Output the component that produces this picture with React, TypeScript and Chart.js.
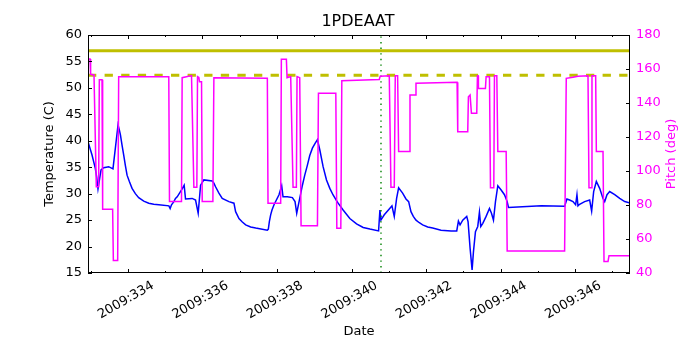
import React, { useEffect, useRef } from 'react';
import { Chart, registerables } from 'chart.js';

Chart.register(...registerables);

const chartTitle = '1PDEAAT';
const xAxisTitle = 'Date';
const tempAxisTitle = 'Temperature (C)';
const pitchAxisTitle = 'Pitch (deg)';

const xMin = 332.93;
const xMax = 347.47;

const xTickDays = [334, 336, 338, 340, 342, 344, 346];
const xTickLabels = ['2009:334', '2009:336', '2009:338', '2009:340', '2009:342', '2009:344', '2009:346'];
const xMinorDays = [333, 335, 337, 339, 341, 343, 345, 347];
const tempTicks = [15, 20, 25, 30, 35, 40, 45, 50, 55, 60];
const pitchTicks = [40, 60, 80, 100, 120, 140, 160, 180];

const planningLimit = 57;
const cautionLimit = 52.4;
const markerDay = 340.79;

const tempDays = [
  332.93, 332.983, 333.038, 333.08, 333.126, 333.162, 333.198, 333.243, 333.28, 333.35,
  333.485, 333.6, 333.736, 333.772, 333.8, 333.843, 333.888, 333.933, 333.978, 334.04,
  334.112, 334.2, 334.29, 334.426, 334.56, 334.694, 334.83, 335.1, 335.134, 335.17,
  335.234, 335.277, 335.323, 335.41, 335.456, 335.51, 335.546, 335.725, 335.815, 335.886,
  335.95, 336.039, 336.263, 336.307, 336.352, 336.442, 336.531, 336.71, 336.845, 336.89,
  336.98, 337.07, 337.16, 337.293, 337.43, 337.74, 337.768, 337.795, 337.83, 337.866,
  337.92, 338.054, 338.126, 338.162, 338.278, 338.413, 338.484, 338.529, 338.592, 338.682,
  338.745, 338.816, 338.879, 338.95, 339.022, 339.085, 339.148, 339.237, 339.328, 339.417,
  339.505, 339.597, 339.64, 339.774, 339.954, 340.134, 340.312, 340.492, 340.725, 340.761,
  340.788, 340.878, 341.012, 341.084, 341.146, 341.209, 341.263, 341.37, 341.46, 341.532,
  341.594, 341.657, 341.729, 341.818, 341.908, 342.043, 342.177, 342.4, 342.67, 342.822,
  342.867, 342.911, 342.983, 343.09, 343.126, 343.18, 343.234, 343.27, 343.324, 343.386,
  343.431, 343.467, 343.521, 343.61, 343.7, 343.754, 343.807, 343.861, 343.924, 344.013,
  344.103, 344.175, 344.21, 345.09, 345.716, 345.778, 345.85, 345.94, 346.011, 346.047,
  346.074, 346.119, 346.253, 346.388, 346.441, 346.495, 346.567, 346.656, 346.746, 346.791,
  346.853, 346.925, 347.06, 347.194, 347.328, 347.49,
];
const tempValues = [
  39.8, 38.6, 37.3, 36.1, 34.8, 33.2, 30.9, 32.9, 34.5, 34.9,
  35.1, 34.7, 43.0, 42.0, 41.1, 39.2, 37.3, 35.3, 33.5, 32.3,
  31.0, 30.0, 29.25, 28.6, 28.2, 28.0, 27.9, 27.7, 27.2, 27.9,
  28.5, 29.1, 29.4, 30.4, 30.9, 31.6, 29.0, 29.1, 28.8, 26.3,
  31.6, 32.6, 32.4, 32.0, 31.3, 30.1, 29.1, 28.5, 28.2, 26.6,
  25.3, 24.65, 24.1, 23.7, 23.5, 23.1, 23.3, 24.7, 26.0, 26.9,
  27.9, 29.8, 31.5, 29.4, 29.4, 29.25, 28.5, 26.3, 28.5, 31.6,
  33.5, 35.4, 37.2, 38.6, 39.5, 40.2, 38.3, 35.1, 32.6, 31.0,
  29.75, 28.7, 28.2, 26.9, 25.3, 24.3, 23.6, 23.3, 22.95, 26.9,
  25.0, 26.0, 27.1, 27.7, 25.7, 29.1, 31.1, 30.1, 29.0, 28.5,
  26.6, 25.7, 25.0, 24.5, 24.1, 23.7, 23.5, 23.1, 22.95, 22.95,
  24.8, 24.1, 25.0, 25.7, 24.7, 19.7, 15.6, 19.0, 22.8, 23.8,
  26.5, 23.8, 24.4, 25.7, 27.2, 26.3, 25.0, 28.5, 31.5, 30.7,
  29.8, 28.5, 27.4, 27.7, 27.6, 29.0, 28.8, 28.5, 27.9, 29.8,
  27.7, 28.0, 28.5, 28.8, 26.7, 30.4, 32.3, 31.0, 29.1, 28.5,
  29.8, 30.4, 29.8, 29.1, 28.5, 28.2,
];

const pitchDays = [
  332.93, 332.984, 333.0, 333.091, 333.153, 333.215, 333.234, 333.306, 333.323, 333.591,
  333.61, 333.726, 333.753, 335.097, 335.116, 335.438, 335.456, 335.707, 335.77, 335.85,
  335.868, 335.904, 335.922, 335.976, 335.994, 336.28, 336.307, 337.741, 337.759, 338.099,
  338.117, 338.252, 338.27, 338.368, 338.431, 338.52, 338.538, 338.61, 338.646, 339.085,
  339.112, 339.578, 339.605, 339.712, 339.739, 340.743, 340.77, 341.012, 341.057, 341.146,
  341.173, 341.236, 341.263, 341.55, 341.568, 341.711, 341.729, 342.831, 342.849, 343.117,
  343.135, 343.18, 343.216, 343.359, 343.377, 343.395, 343.404, 343.592, 343.61, 343.7,
  343.727, 343.816, 343.834, 343.897, 343.924, 344.148, 344.175, 345.716, 345.76, 345.94,
  346.074, 346.343, 346.37, 346.433, 346.45, 346.549, 346.567, 346.746, 346.773, 346.88,
  346.907, 347.49,
];
const pitchValues = [
  165.9, 165.9, 156.9, 156.5, 90.8, 90.8, 153.7, 153.7, 77.5, 77.5,
  47.3, 47.3, 155.5, 155.5, 82.0, 82.0, 154.9, 156.1, 90.4, 90.4,
  155.5, 155.0, 152.5, 152.5, 82.0, 82.0, 154.9, 154.5, 81.0, 81.0,
  165.7, 165.7, 154.9, 155.5, 90.4, 90.4, 155.5, 154.9, 67.8, 67.8,
  145.7, 145.7, 66.3, 66.3, 153.1, 153.8, 155.8, 156.0, 90.4, 90.4,
  156.1, 156.1, 111.4, 111.4, 144.7, 144.7, 151.6, 152.2, 123.1, 123.1,
  143.7, 144.7, 133.9, 133.9, 156.1, 156.1, 148.6, 148.6, 155.5, 155.5,
  90.2, 90.2, 156.1, 156.1, 111.4, 111.4, 52.9, 52.9, 154.5, 155.1,
  155.7, 156.0, 90.2, 90.2, 156.1, 156.1, 111.4, 111.4, 46.7, 46.7,
  50.2, 50.2,
];

const FONT = 'DejaVu Sans';

const framePlugin = {
  id: 'mplFrame',
  afterDatasetsDraw(chart: any) {
    const { ctx, chartArea, scales } = chart;
    const { left, right, top, bottom } = chartArea;
    ctx.save();
    ctx.strokeStyle = '#000';
    ctx.lineWidth = 1;
    const seg = (x1: number, y1: number, x2: number, y2: number) => {
      ctx.beginPath();
      ctx.moveTo(x1, y1);
      ctx.lineTo(x2, y2);
      ctx.stroke();
    };
    const xs = scales.x;
    xTickDays.forEach((d) => {
      const px = Math.round(xs.getPixelForValue(d)) + 0.5;
      seg(px, bottom, px, bottom - 4);
      seg(px, top, px, top + 4);
    });
    xMinorDays.forEach((d) => {
      if (d < xMin || d > xMax) return;
      const px = Math.round(xs.getPixelForValue(d)) + 0.5;
      seg(px, bottom, px, bottom - 2);
      seg(px, top, px, top + 2);
    });
    tempTicks.forEach((v) => {
      const py = Math.round(scales.y.getPixelForValue(v)) + 0.5;
      seg(left, py, left + 4, py);
    });
    pitchTicks.forEach((v) => {
      const py = Math.round(scales.y1.getPixelForValue(v)) + 0.5;
      seg(right, py, right - 4, py);
    });
    ctx.strokeRect(Math.round(left) + 0.5, Math.round(top) + 0.5, Math.round(right - left) - 1, Math.round(bottom - top) - 1);

    // right axis title, reading bottom-to-top like matplotlib
    ctx.fillStyle = '#ff00ff';
    ctx.font = `13px "${FONT}"`;
    ctx.textAlign = 'center';
    ctx.textBaseline = 'middle';
    ctx.translate(672, (top + bottom) / 2);
    ctx.rotate(-Math.PI / 2);
    ctx.fillText(pitchAxisTitle, 0, 0);
    ctx.restore();
  },
};

export default function App() {
  const canvasRef = useRef<HTMLCanvasElement | null>(null);

  useEffect(() => {
    const canvas = canvasRef.current;
    if (!canvas) return;
    const toXY = (xs: number[], ys: number[]) => xs.map((x, i) => ({ x, y: ys[i] }));

    const chart = new Chart(canvas, {
      type: 'line',
      data: {
        datasets: [
          {
            label: 'Pitch',
            data: toXY(pitchDays, pitchValues),
            yAxisID: 'y1',
            borderColor: '#ff00ff',
            borderWidth: 1.5,
            pointRadius: 0,
            tension: 0,
            fill: false,
          },
          {
            label: 'Planning limit',
            data: [{ x: xMin, y: planningLimit }, { x: xMax, y: planningLimit }],
            yAxisID: 'y',
            borderColor: '#bfbf00',
            borderWidth: 3,
            pointRadius: 0,
            fill: false,
          },
          {
            label: 'Caution limit',
            data: [{ x: xMin, y: cautionLimit }, { x: xMax, y: cautionLimit }],
            yAxisID: 'y',
            borderColor: '#bfbf00',
            borderWidth: 3,
            borderDash: [8.3, 8.3],
            pointRadius: 0,
            fill: false,
          },
          {
            label: 'Now',
            data: [{ x: markerDay, y: 15 }, { x: markerDay, y: 60 }],
            yAxisID: 'y',
            borderColor: '#008000',
            borderWidth: 1.4,
            borderDash: [1.4, 4.2],
            pointRadius: 0,
            fill: false,
          },
          {
            label: 'Temperature',
            data: toXY(tempDays, tempValues),
            yAxisID: 'y',
            borderColor: '#0000ff',
            borderWidth: 1.5,
            pointRadius: 0,
            tension: 0,
            fill: false,
          },
        ],
      },
      options: {
        animation: false,
        responsive: false,
        maintainAspectRatio: false,
        devicePixelRatio: 1,
        layout: { padding: { left: 16, right: 0, top: 0, bottom: 0 } },
        plugins: {
          legend: { display: false },
          tooltip: { enabled: false },
          title: {
            display: true,
            text: chartTitle,
            color: '#000',
            font: { family: FONT, size: 16, weight: 'normal', lineHeight: 1.25 },
            padding: { top: 12, bottom: 3 },
          },
        },
        scales: {
          x: {
            type: 'linear',
            min: xMin,
            max: xMax,
            grid: { display: false, drawTicks: false },
            border: { display: false },
            afterBuildTicks: (scale: any) => {
              scale.ticks = xTickDays.map((v) => ({ value: v }));
            },
            afterFit: (scale: any) => {
              scale.height = 77;
            },
            ticks: {
              autoSkip: false,
              minRotation: 30,
              maxRotation: 30,
              padding: 5,
              labelOffset: 25,
              color: '#000',
              font: { family: FONT, size: 13 },
              callback: (value: any) => {
                const i = xTickDays.indexOf(Number(value));
                return i >= 0 ? xTickLabels[i] : '';
              },
            },
            title: {
              display: true,
              text: xAxisTitle,
              color: '#000',
              font: { family: FONT, size: 13 },
              padding: { top: 0, bottom: 11 },
            },
          },
          y: {
            type: 'linear',
            position: 'left',
            min: 15,
            max: 60,
            grid: { display: false, drawTicks: false },
            border: { display: false },
            afterBuildTicks: (scale: any) => {
              scale.ticks = tempTicks.map((v) => ({ value: v }));
            },
            afterFit: (scale: any) => {
              scale.width = 72;
            },
            ticks: {
              padding: 6,
              color: '#000',
              font: { family: FONT, size: 13 },
            },
            title: {
              display: true,
              text: tempAxisTitle,
              color: '#000',
              font: { family: FONT, size: 13 },
              padding: { top: 26, bottom: 0 },
            },
          },
          y1: {
            type: 'linear',
            position: 'right',
            min: 40,
            max: 180,
            grid: { display: false, drawTicks: false },
            border: { display: false },
            afterBuildTicks: (scale: any) => {
              scale.ticks = pitchTicks.map((v) => ({ value: v }));
            },
            afterFit: (scale: any) => {
              scale.width = 70;
            },
            ticks: {
              padding: 6,
              color: '#ff00ff',
              font: { family: FONT, size: 13 },
            },
            title: { display: false },
          },
        },
      },
      plugins: [framePlugin],
    } as any);

    return () => {
      chart.destroy();
    };
  }, []);

  return (
    <div style={{ position: 'fixed', left: 0, top: 0, width: 700, height: 350, background: '#fff' }}>
      <canvas ref={canvasRef} width={700} height={350} style={{ display: 'block', width: 700, height: 350 }} />
    </div>
  );
}
